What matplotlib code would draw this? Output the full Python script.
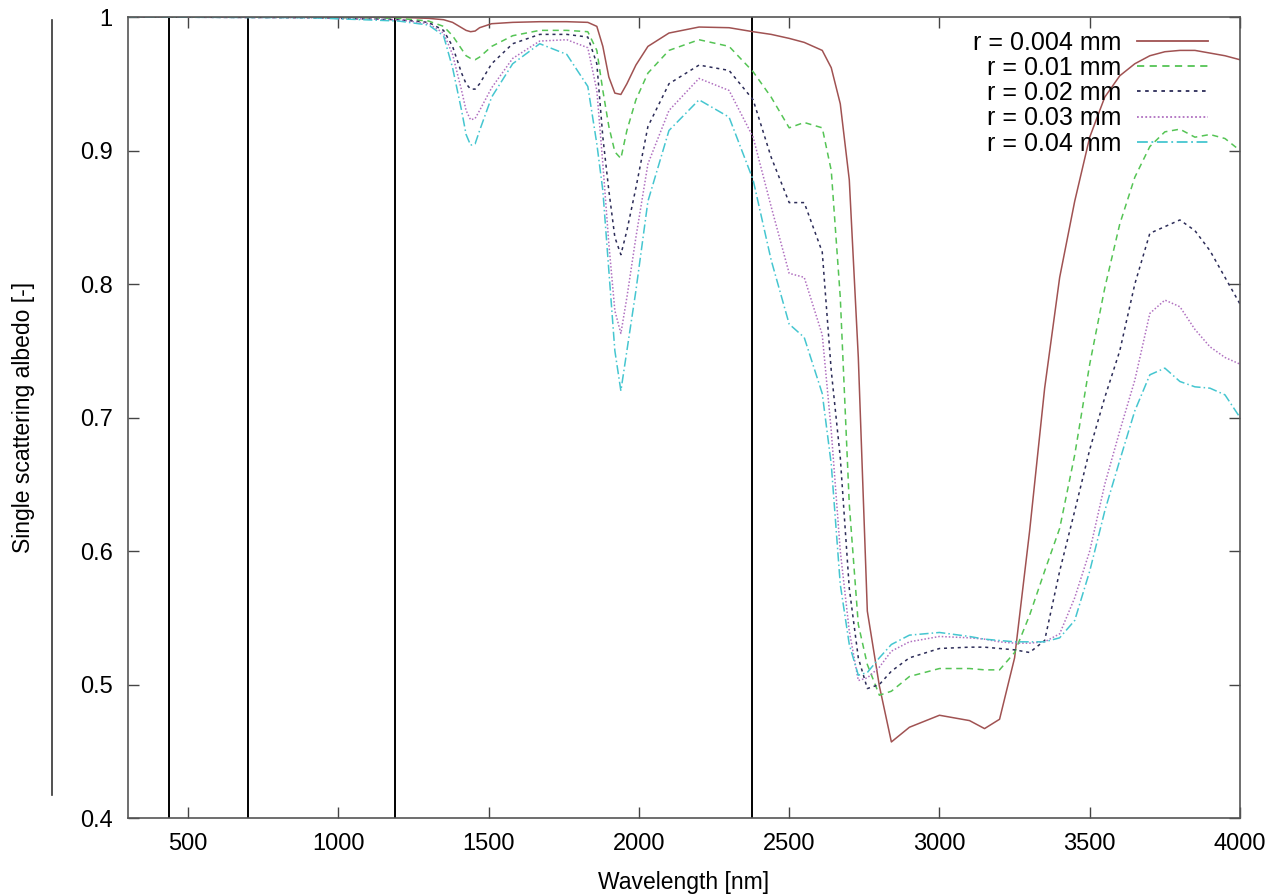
#!/usr/bin/env python3
import matplotlib

matplotlib.use("Agg")
import matplotlib.pyplot as plt
from matplotlib.lines import Line2D

# wavelength grid [nm], shared by all radii
wavelength = [
    300, 900, 1200, 1300, 1350, 1380, 1410, 1425, 1440, 1455, 1470, 1510,
    1580, 1670, 1760, 1830, 1860, 1880, 1900, 1920, 1940, 1960,
    1990, 2030, 2100, 2200, 2300, 2380, 2440, 2500, 2550, 2610,
    2640, 2670, 2700, 2730, 2760, 2800, 2840, 2900, 3000, 3100,
    3150, 3200, 3250, 3300, 3350, 3400, 3450, 3500, 3550, 3600,
    3650, 3700, 3750, 3800, 3850, 3900, 3950, 4000,
]

# single scattering albedo
albedo_r004 = [
    1.0, 1.0, 0.9998, 0.999, 0.998, 0.996, 0.992, 0.990, 0.989, 0.9895, 0.992, 0.995,
    0.996, 0.9965, 0.9965, 0.996, 0.993, 0.978, 0.955, 0.943, 0.942, 0.950,
    0.964, 0.978, 0.988, 0.9925, 0.992, 0.989, 0.987, 0.984, 0.981, 0.975,
    0.962, 0.935, 0.878, 0.745, 0.555, 0.499, 0.457, 0.468, 0.477, 0.473,
    0.467, 0.474, 0.520, 0.615, 0.722, 0.805, 0.862, 0.910, 0.940, 0.956,
    0.965, 0.971, 0.974, 0.975, 0.975, 0.973, 0.971, 0.968,
]
albedo_r01 = [
    1.0, 0.9998, 0.999, 0.997, 0.993, 0.986, 0.976, 0.971, 0.969, 0.968, 0.970, 0.978,
    0.986, 0.990, 0.990, 0.989, 0.975, 0.945, 0.918, 0.899, 0.894, 0.915,
    0.938, 0.958, 0.975, 0.983, 0.978, 0.959, 0.940, 0.917, 0.921, 0.917,
    0.885, 0.790, 0.635, 0.545, 0.515, 0.492, 0.495, 0.506, 0.512, 0.512,
    0.511, 0.511, 0.524, 0.552, 0.585, 0.617, 0.672, 0.740, 0.797, 0.845,
    0.880, 0.903, 0.914, 0.916, 0.910, 0.912, 0.909, 0.900,
]
albedo_r02 = [
    1.0, 0.9995, 0.998, 0.996, 0.990, 0.978, 0.958, 0.950, 0.946, 0.946, 0.950, 0.965,
    0.980, 0.987, 0.987, 0.985, 0.965, 0.910, 0.870, 0.835, 0.822, 0.840,
    0.872, 0.918, 0.950, 0.964, 0.960, 0.938, 0.895, 0.861, 0.861, 0.824,
    0.735, 0.670, 0.572, 0.520, 0.497, 0.500, 0.510, 0.520, 0.527, 0.528,
    0.528, 0.527, 0.526, 0.524, 0.533, 0.585, 0.630, 0.676, 0.715, 0.750,
    0.800, 0.838, 0.843, 0.848, 0.840, 0.825, 0.805, 0.785,
]
albedo_r03 = [
    1.0, 0.9995, 0.998, 0.995, 0.988, 0.972, 0.945, 0.930, 0.923, 0.924, 0.930, 0.947,
    0.969, 0.982, 0.983, 0.977, 0.945, 0.890, 0.830, 0.780, 0.763, 0.790,
    0.835, 0.890, 0.930, 0.954, 0.945, 0.910, 0.858, 0.808, 0.805, 0.762,
    0.690, 0.600, 0.540, 0.503, 0.505, 0.513, 0.525, 0.532, 0.536, 0.535,
    0.534, 0.532, 0.531, 0.531, 0.532, 0.538, 0.565, 0.600, 0.650, 0.690,
    0.728, 0.778, 0.788, 0.783, 0.766, 0.753, 0.745, 0.740,
]
albedo_r04 = [
    1.0, 0.9995, 0.997, 0.994, 0.986, 0.962, 0.930, 0.912, 0.904, 0.905, 0.915, 0.940,
    0.965, 0.980, 0.972, 0.948, 0.905, 0.870, 0.810, 0.750, 0.720, 0.750,
    0.795, 0.862, 0.915, 0.938, 0.925, 0.878, 0.818, 0.770, 0.760, 0.718,
    0.665, 0.575, 0.530, 0.507, 0.509, 0.520, 0.530, 0.537, 0.539, 0.536,
    0.534, 0.533, 0.532, 0.532, 0.532, 0.535, 0.548, 0.585, 0.630, 0.668,
    0.705, 0.732, 0.737, 0.727, 0.723, 0.722, 0.717, 0.700,
]

labels = ["r = 0.004 mm", "r = 0.01 mm", "r = 0.02 mm", "r = 0.03 mm", "r = 0.04 mm"]
band_edges = [435, 700, 1190, 2375]
xticks = [500, 1000, 1500, 2000, 2500, 3000, 3500, 4000]
yticks = [0.4, 0.5, 0.6, 0.7, 0.8, 0.9, 1.0]
ytick_labels = ["0.4", "0.5", "0.6", "0.7", "0.8", "0.9", "1"]


def main():
    plt.rcParams["font.family"] = ["Liberation Sans", "DejaVu Sans"]

    fig = plt.figure(figsize=(12.81, 8.96), dpi=100)
    ax = fig.add_axes([0.0999, 0.087, 0.8681, 0.894])

    series = [albedo_r004, albedo_r01, albedo_r02, albedo_r03, albedo_r04]
    colors = ["#a05252", "#55c455", "#2c2c58", "#b070c0", "#45c6d0"]
    styles = ["-", (0, (4, 3)), (0, (2, 2.5)), (0, (1, 1.3)), (0, (6, 2, 1, 2))]

    for vals, lab, col, ls in zip(series, labels, colors, styles):
        ax.plot(wavelength, vals, color=col, linestyle=ls, linewidth=1.1, label=lab)

    for x in band_edges:
        ax.axvline(x, color="black", linewidth=1.4, zorder=1)

    ax.set_xlim(300, 4000)
    ax.set_ylim(0.4, 1.0)
    ax.set_xticks(xticks)
    ax.set_yticks(yticks)
    ax.set_yticklabels(ytick_labels)
    ax.tick_params(direction="in", length=8, width=1, top=True, right=True,
                   labelsize=17, color="#444444")
    ax.tick_params(axis="x", pad=11)
    ax.tick_params(axis="y", pad=11)
    for s in ax.spines.values():
        s.set_color("#555555")
        s.set_linewidth(1.2)

    ax.set_xlabel("Wavelength [nm]", fontsize=16.5, labelpad=11)
    ax.set_ylabel("Single scattering albedo [-]", fontsize=16.5, labelpad=32)

    leg = ax.legend(loc="upper right", bbox_to_anchor=(0.971, 0.983), frameon=False,
                    markerfirst=False, fontsize=18, handlelength=2.85,
                    handletextpad=0.6, labelspacing=0.05, borderpad=0, borderaxespad=0)
    for h in leg.get_lines():
        h.set_linewidth(1.3)

    # stray vertical rule at far left of the original figure
    fig.add_artist(Line2D([52 / 1281, 52 / 1281], [1 - 20 / 896, 1 - 795 / 896],
                          color="#333333", linewidth=1.2))

    fig.savefig("out.png", dpi=100)


if __name__ == "__main__":
    main()
